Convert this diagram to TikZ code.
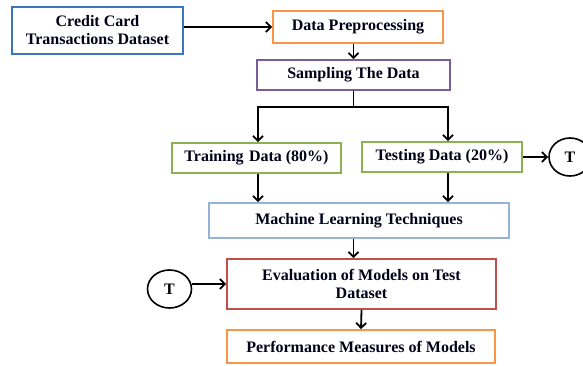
\documentclass[tikz,border=0pt]{standalone}
\usepackage{fontspec}
\setmainfont{Liberation Serif}
\usetikzlibrary{arrows.meta,shapes.geometric}
\definecolor{cblue}{HTML}{3A76BC}
\definecolor{corange}{HTML}{F79646}
\definecolor{cpurple}{HTML}{7A5C9A}
\definecolor{cgreen}{HTML}{8DB050}
\definecolor{clblue}{HTML}{95B3D7}
\definecolor{cred}{HTML}{C0504D}
\begin{document}
\begin{tikzpicture}[x=1pt,y=-1pt,
  box/.style={draw=#1,line width=1.8pt,rectangle,inner sep=0pt,align=center,
    font=\fontsize{16}{18}\selectfont\bfseries,text=black!90!blue},
  circ/.style={draw=black,line width=1.6pt,ellipse,inner sep=0pt,
    minimum width=42pt,minimum height=38pt,font=\fontsize{16}{18}\selectfont\bfseries},
  arr/.style={draw=black,line width=1.8pt,-{Straight Barb[length=5pt,width=10pt,line width=1.8pt]}},
  ln/.style={draw=black,line width=1.8pt}]
\useasboundingbox (0,0) rectangle (583,365);
\node[box=cblue,minimum width=171pt,minimum height=47pt] (cc) at (97.5,30.5) {Credit Card\\Transactions Dataset};
\node[box=corange,minimum width=170pt,minimum height=32pt] (pp) at (358,27) {Data Preprocessing};
\node[box=cpurple,minimum width=193pt,minimum height=30pt] (sd) at (353.5,75) {Sampling The Data};
\node[box=cgreen,minimum width=169pt,minimum height=30pt] (tr) at (256.5,158) {Training\,\,Data (80\%)};
\node[box=cgreen,minimum width=160pt,minimum height=30pt] (te) at (442,157) {Testing Data (20\%)};
\node[circ] (t1) at (570,157) {T};
\node[box=clblue,minimum width=300pt,minimum height=35pt] (ml) at (359,220.5) {Machine Learning Techniques};
\node[box=cred,minimum width=269pt,minimum height=50pt] (ev) at (361.5,284) {Evaluation of Models on Test\\Dataset};
\node[box=corange,minimum width=268pt,minimum height=33pt] (pm) at (361,346.5) {Performance Measures of Models};
\node[circ,minimum width=44pt] (t2) at (169.5,289) {T};
\coordinate (sl) at (258,107);
\coordinate (sr) at (448,107);
\draw[arr] (cc.east |- pp.west) -- (pp.west);
\draw[arr] (sd.north |- pp.south) -- (sd.north);
\draw[ln] (sd.south) -- (sd.south |- sl);
\draw[ln] (sl) -- (sr);
\draw[arr] ([yshift=0.9pt]sl) -- (sl |- tr.north);
\draw[arr] ([yshift=0.9pt]sr) -- (sr |- te.north);
\draw[arr] (te.east) -- (t1.west);
\draw[arr] (sl |- tr.south) -- (sl |- ml.north);
\draw[arr] (sr |- te.south) -- (sr |- ml.north);
\draw[arr] (sd.south |- ml.south) -- (sd.south |- ev.north);
\draw[arr] (ev.south) -- (pm.north);
\draw[arr] (t2.east |- ev.west) -- (ev.west);
\end{tikzpicture}
\end{document}
